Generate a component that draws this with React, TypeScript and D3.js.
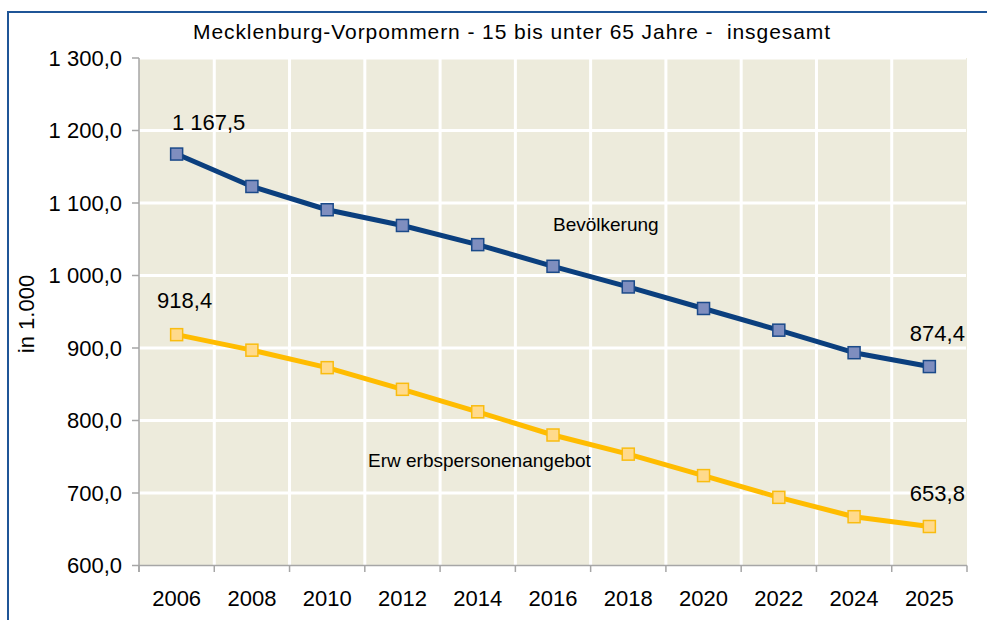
import React from "react";
import * as d3 from "d3";

const years = ["2006", "2008", "2010", "2012", "2014", "2016", "2018", "2020", "2022", "2024", "2025"];
const bevoelkerung = [1167.5, 1122.8, 1090.7, 1069.0, 1042.6, 1012.7, 984.2, 954.5, 924.6, 893.5, 874.4];
const erwerbspersonen = [918.4, 897.0, 872.9, 843.0, 812.0, 780.0, 753.6, 724.0, 694.0, 667.3, 653.8];
const yTicks = [600, 700, 800, 900, 1000, 1100, 1200, 1300];
const titleText = "Mecklenburg-Vorpommern - 15 bis unter 65 Jahre -  insgesamt";
const yAxisTitle = "in 1.000";
const seriesNames = ["Bevölkerung", "Erw erbspersonenangebot"];

const W = 987;
const H = 620;
const FONT = "'Liberation Sans', Arial, Helvetica, sans-serif";

const fmt = (v: number) => {
  const s = v.toFixed(1).replace(".", ",");
  const [i, d] = s.split(",");
  const withSep = i.replace(/\B(?=(\d{3})+(?!\d))/g, " ");
  return withSep + "," + d;
};

export default function App() {
  const x = d3.scaleBand<string>().domain(years).range([139, 967]).padding(0);
  const y = d3.scaleLinear().domain([600, 1300]).range([565.5, 58]);
  const cx = (yr: string) => (x(yr) as number) + x.bandwidth() / 2;

  const line = d3
    .line<number>()
    .x((_, i) => cx(years[i]))
    .y((d) => y(d));

  const series = [
    { values: bevoelkerung, stroke: "#0B3F7E", mFill: "#7F8EBF", mStroke: "#1B4A8A" },
    { values: erwerbspersonen, stroke: "#FFBC00", mFill: "#FFDA8C", mStroke: "#F9BC10" },
  ];

  const boundaries = years.map((yr) => x(yr) as number).concat([967]);

  // data label placements: [seriesIndex, pointIndex, dx, dy]
  const labelPlacements: [number, number, number, number][] = [
    [0, 0, 32, -24],
    [0, 10, 8, -26],
    [1, 0, 8, -27],
    [1, 10, 8, -25],
  ];

  const ms = 12;

  return (
    <svg
      width={W}
      height={H}
      style={{ position: "absolute", left: 0, top: 0, background: "#ffffff" }}
      fontFamily={FONT}
    >
      <rect x={0} y={0} width={W} height={H} fill="#ffffff" />
      <rect x={8} y={12} width={W + 20} height={H + 20} fill="none" stroke="#1F5597" strokeWidth={2} />

      {/* plot background */}
      <rect x={139} y={58} width={967 - 139} height={565.5 - 58} fill="#EDEBDC" />

      {/* gridlines */}
      {yTicks.filter((t) => t !== 600).map((t) => (
        <line key={"gy" + t} x1={139} x2={966} y1={y(t)} y2={y(t)} stroke="#ffffff" strokeWidth={3} />
      ))}
      {boundaries.slice(1, -1).map((b, i) => (
        <line key={"gx" + i} x1={b} x2={b} y1={58} y2={565.5} stroke="#ffffff" strokeWidth={3} />
      ))}

      {/* axes */}
      <line x1={139} x2={139} y1={58} y2={572} stroke="#A6A6A6" strokeWidth={1.5} />
      <line x1={139} x2={967} y1={565.5} y2={565.5} stroke="#A6A6A6" strokeWidth={1.5} />
      {yTicks.map((t) => (
        <line key={"ty" + t} x1={132} x2={139} y1={y(t)} y2={y(t)} stroke="#A6A6A6" strokeWidth={1.5} />
      ))}
      {boundaries.map((b, i) => (
        <line key={"tx" + i} x1={b} x2={b} y1={565.5} y2={572} stroke="#A6A6A6" strokeWidth={1.5} />
      ))}

      {/* tick labels */}
      {yTicks.map((t) => (
        <text key={"ly" + t} x={122} y={y(t)} dy="0.36em" textAnchor="end" fontSize={22} fill="#000">
          {fmt(t)}
        </text>
      ))}
      {years.map((yr) => (
        <text key={"lx" + yr} x={cx(yr)} y={606} textAnchor="middle" fontSize={22} fill="#000">
          {yr}
        </text>
      ))}

      {/* y axis title */}
      <text
        transform={`translate(34, 314) rotate(-90)`}
        textAnchor="middle"
        fontSize={22}
        fill="#000"
      >
        {yAxisTitle}
      </text>

      {/* title */}
      <text
        x={193}
        y={39}
        fontSize={21}
        fill="#000"
        textLength={637}
        lengthAdjust="spacing"
        style={{ whiteSpace: "pre" }}
      >
        {titleText}
      </text>

      {/* lines */}
      {series.map((s, si) => (
        <g key={"s" + si}>
          <path d={line(s.values) || ""} fill="none" stroke={s.stroke} strokeWidth={5} strokeLinejoin="round" />
          {s.values.map((v, i) => (
            <rect
              key={i}
              x={cx(years[i]) - ms / 2}
              y={y(v) - ms / 2}
              width={ms}
              height={ms}
              fill={s.mFill}
              stroke={s.mStroke}
              strokeWidth={1.5}
            />
          ))}
        </g>
      ))}

      {/* data labels */}
      {labelPlacements.map(([si, pi, dx, dy], k) => {
        const v = series[si].values[pi];
        return (
          <text key={"dl" + k} x={cx(years[pi]) + dx} y={y(v) + dy} textAnchor="middle" fontSize={22} fill="#000">
            {fmt(v)}
          </text>
        );
      })}

      {/* series labels */}
      <text x={cx("2016")} y={231} fontSize={19} fill="#000">
        {seriesNames[0]}
      </text>
      <text x={368} y={467} fontSize={19} fill="#000" style={{ whiteSpace: "pre" }}>
        {seriesNames[1]}
      </text>
    </svg>
  );
}
